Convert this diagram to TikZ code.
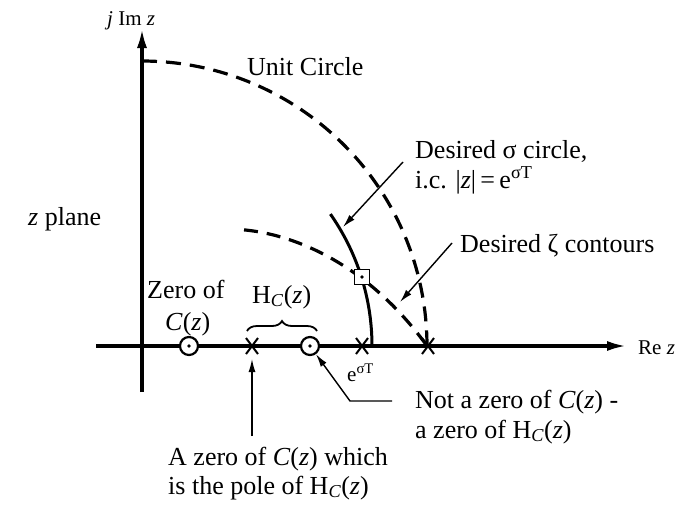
\documentclass[tikz,border=0pt]{standalone}
\usepackage{fontspec}
\setmainfont{Liberation Serif}
\usetikzlibrary{arrows.meta,decorations.pathreplacing}
\begin{document}
\begin{tikzpicture}[x=1pt,y=-1pt,
  lbl/.style={font=\fontsize{26}{30}\selectfont, inner sep=0pt},
  sml/.style={font=\fontsize{21}{24}\selectfont, inner sep=0pt},
  axis/.style={line width=3.5pt,-{Latex[length=20pt,width=10pt]}},
  dashc/.style={line width=3.2pt, dash pattern=on 15pt off 9pt},
  leader/.style={line width=1.4pt,-{Latex[length=13pt,width=7pt]}},
  zero/.style={circle, draw, line width=2.2pt, fill=white, minimum size=18pt, inner sep=0pt},
  cross/.style={line width=2pt},
  marker/.style={draw, fill=white, line width=1.8pt, minimum size=15pt, inner sep=0pt},
]
\useasboundingbox (0,0) rectangle (678,506);
% axes
\coordinate (reL) at (96,346);
\coordinate (reR) at (627,346);
\coordinate (imB) at (142,392);
\coordinate (imT) at (142,28);
\draw[axis] (reL) -- (reR);
\draw[axis] (imB) -- (imT);
% unit circle
\draw[dashc] plot[domain=90:0, samples=80, variable=\t] ({142+285*cos(\t)},{346-285*sin(\t)});
% sigma circle
\draw[line width=3pt] plot[domain=35:0, samples=40, variable=\t] ({142+230*cos(\t)},{346-230*sin(\t)});
% zeta contour
\draw[dashc, dash pattern=on 14pt off 9pt] plot[domain=48.7:0, samples=80, variable=\t]
  ({142+285*exp(-0.72*\t*pi/180)*cos(\t)},{346-285*exp(-0.72*\t*pi/180)*sin(\t)});
% crosses
\foreach \n/\x in {p1/252,p2/362,p3/428}{
  \coordinate (\n) at (\x,346);
  \draw[cross] (\n) +(-6,-8) -- +(6,8) (\n) +(-6,8) -- +(6,-8);
}
% zeros
\node[zero] (z1) at (189,346) {};
\fill (z1) circle (1.8pt);
\node[zero] (z2) at (310,346) {};
\fill (z2) circle (1.8pt);
% marker
\node[marker] (mk) at (362,277) {};
\fill (mk) circle (1.8pt);
% brace
\coordinate (bL) at (247,331);
\coordinate (bR) at (317,331);
\draw[line width=1.8pt, decorate, decoration={brace, amplitude=10pt}] (bL) -- (bR);
% labels
\node[sml, anchor=base west] (jim) at (107,25) {\textit{j} Im \textit{z}};
\node[lbl, anchor=base west] (uc) at (247,75) {Unit Circle};
\node[lbl, anchor=base west] (zp) at (28,225) {\textit{z} plane};
\node[lbl, anchor=base west] (ds1) at (415,158) {Desired σ circle,};
\node[lbl, anchor=base west] (ds2) at (415,188) {i.c. |\textit{z}|\,=\,e\textsuperscript{σT}};
\node[lbl, anchor=base west] (dz) at (460,252) {Desired ζ contours};
\node[lbl, anchor=base west] (zo) at (147,298) {Zero of};
\node[lbl, anchor=base west] (cz) at (165,330) {\textit{C}(\textit{z})};
\node[lbl, anchor=base west] (hc) at (252,303) {H\textsubscript{\textit{C}}(\textit{z})};
\node[sml, anchor=base west] (es) at (347,381) {e\textsuperscript{σT}};
\node[lbl, anchor=base west] (nz1) at (415,408) {Not a zero of \textit{C}(\textit{z}) -};
\node[lbl, anchor=base west] (nz2) at (415,438) {a zero of H\textsubscript{\textit{C}}(\textit{z})};
\node[lbl, anchor=base west] (az1) at (168,465) {A zero of \textit{C}(\textit{z}) which};
\node[lbl, anchor=base west] (az2) at (168,494) {is the pole of H\textsubscript{\textit{C}}(\textit{z})};
\node[sml, anchor=base west] (re) at (638,354) {Re \textit{z}};
% leaders
\coordinate (s0) at (403,162);
\coordinate (s1) at (343,227);
\draw[leader] (s0) -- (s1);
\coordinate (c0) at (452,243);
\coordinate (c1) at (400,302);
\draw[leader] (c0) -- (c1);
\coordinate (n0) at (392,401);
\coordinate (n1) at (350,401);
\draw[leader] (n0) -- (n1) -- (z2);
\coordinate (a0) at (252,436);
\coordinate (a1) at (252,359);
\draw[leader] (a0) -- (a1);
\end{tikzpicture}
\end{document}
